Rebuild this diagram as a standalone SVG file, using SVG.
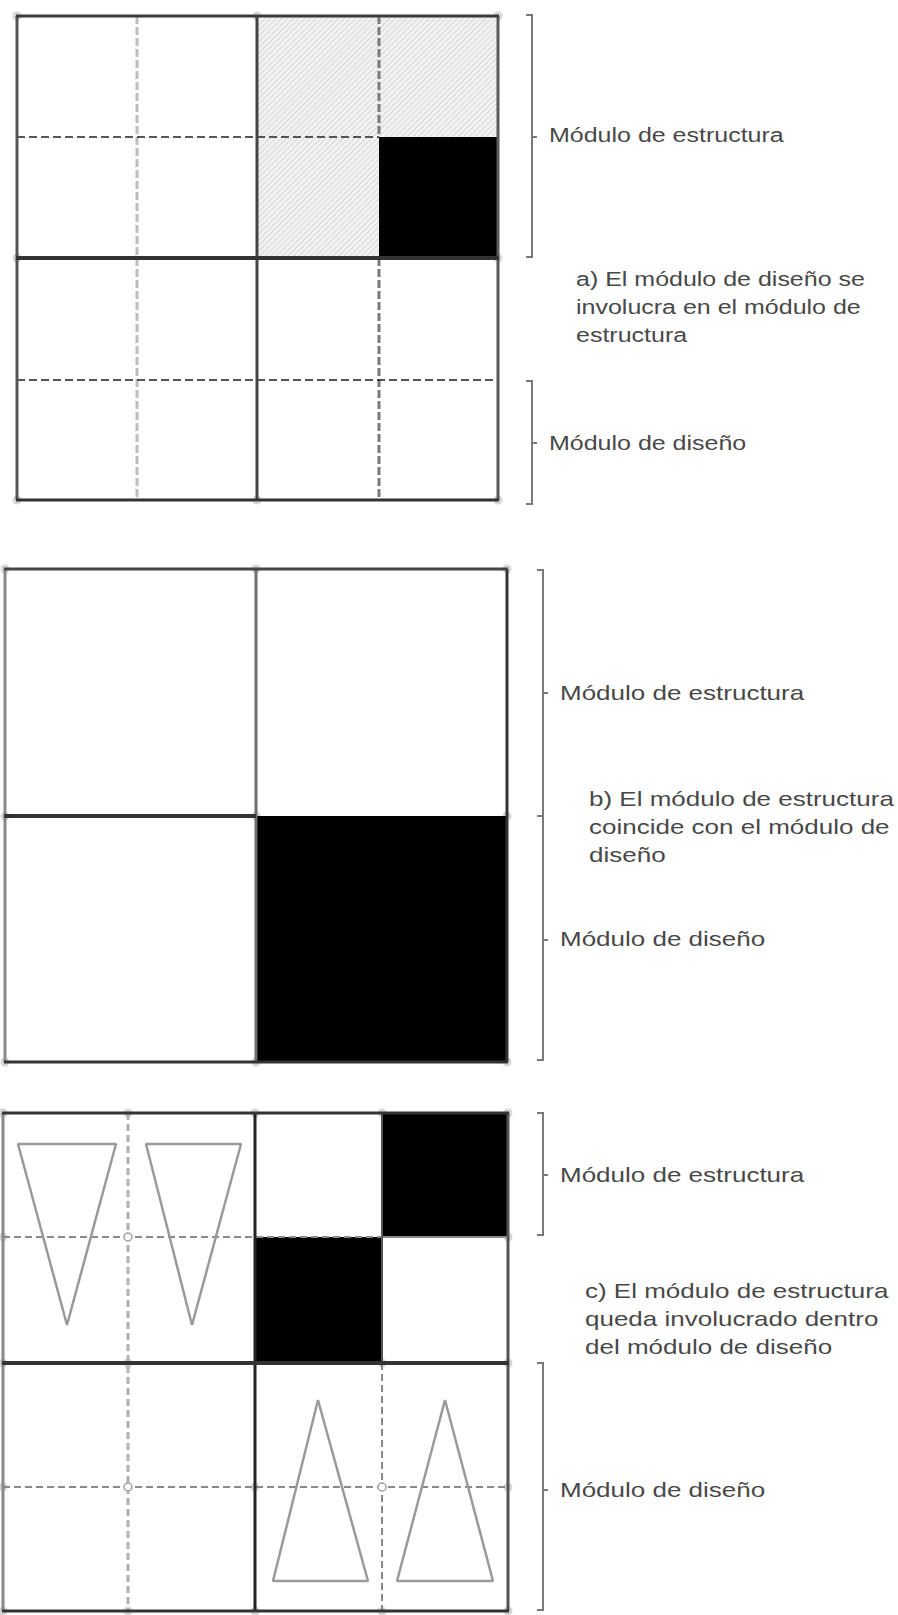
<svg xmlns="http://www.w3.org/2000/svg" width="898" height="1615" viewBox="0 0 898 1615">
<defs>
<pattern id="hatch" width="4" height="4" patternUnits="userSpaceOnUse" patternTransform="rotate(45)">
<rect width="4" height="4" fill="#f2f2f2"/>
<line x1="0" y1="0" x2="0" y2="4" stroke="#cbcbcb" stroke-width="1.4"/>
</pattern>
</defs>
<style>
.lbl{font-family:"Liberation Sans",Arial,sans-serif;font-size:20px;fill:#484848}
.blk{fill:#000}
.nub{fill:#d6d6d6}
.ln{fill:none;stroke-linecap:butt}
.tri{fill:none;stroke:#9a9a9a;stroke-width:2.5;stroke-linejoin:bevel}
.brk{fill:none;stroke:#7a7a7a;stroke-width:2}
.ring{fill:#fff;stroke:#a0a0a0;stroke-width:1.5}
</style>
<rect width="898" height="1615" fill="#fff"/>

<g id="section-a">
<g class="nub">
<circle cx="17" cy="16" r="4.5"/><circle cx="257" cy="16" r="4.5"/><circle cx="498" cy="16" r="4.5"/>
<circle cx="17" cy="258" r="4.5"/><circle cx="498" cy="258" r="4.5"/>
<circle cx="17" cy="500" r="4.5"/><circle cx="257" cy="500" r="4.5"/><circle cx="498" cy="500" r="4.5"/>
</g>
<rect x="257" y="16" width="241" height="121" fill="url(#hatch)"/>
<rect x="257" y="137" width="122" height="121" fill="url(#hatch)"/>
<rect class="blk" x="379" y="137" width="119" height="121"/>
<line class="ln" x1="137" y1="16" x2="137" y2="500" stroke="#bdbdbd" stroke-width="3" stroke-dasharray="8 3"/>
<line class="ln" x1="379" y1="16" x2="379" y2="137" stroke="#7a7a7a" stroke-width="3" stroke-dasharray="8 3"/>
<line class="ln" x1="379" y1="258" x2="379" y2="500" stroke="#7a7a7a" stroke-width="3" stroke-dasharray="8 3"/>
<line class="ln" x1="17" y1="137" x2="379" y2="137" stroke="#222" stroke-width="1.5" stroke-dasharray="8 4"/>
<line class="ln" x1="17" y1="380" x2="498" y2="380" stroke="#222" stroke-width="1.5" stroke-dasharray="8 4"/>
<line class="ln" x1="17" y1="16" x2="17" y2="500" stroke="#555" stroke-width="3"/>
<line class="ln" x1="498" y1="16" x2="498" y2="500" stroke="#5a5a5a" stroke-width="3"/>
<line class="ln" x1="257" y1="16" x2="257" y2="500" stroke="#444" stroke-width="3"/>
<line class="ln" x1="16" y1="16" x2="499" y2="16" stroke="#3a3a3a" stroke-width="3"/>
<line class="ln" x1="16" y1="258" x2="499" y2="258" stroke="#333" stroke-width="4"/>
<line class="ln" x1="16" y1="500" x2="499" y2="500" stroke="#333" stroke-width="3"/>
<text class="lbl" transform="translate(549 142) scale(1.25 1)">Módulo de estructura</text>
<text class="lbl" transform="translate(576 286) scale(1.25 1)">a) El módulo de diseño se</text>
<text class="lbl" transform="translate(576 314) scale(1.25 1)">involucra en el módulo de</text>
<text class="lbl" transform="translate(576 342) scale(1.25 1)">estructura</text>
<text class="lbl" transform="translate(549 450) scale(1.25 1)">Módulo de diseño</text>
</g>

<g id="section-b">
<g class="nub">
<circle cx="5" cy="569" r="4.5"/><circle cx="256" cy="569" r="4.5"/><circle cx="507" cy="569" r="4.5"/>
<circle cx="5" cy="816" r="4.5"/><circle cx="256" cy="816" r="4.5"/><circle cx="507" cy="816" r="4.5"/>
<circle cx="5" cy="1062" r="4.5"/><circle cx="256" cy="1062" r="4.5"/><circle cx="507" cy="1062" r="4.5"/>
</g>
<rect class="blk" x="256" y="816" width="251" height="246"/>
<line class="ln" x1="5" y1="569" x2="5" y2="1062" stroke="#888" stroke-width="3"/>
<line class="ln" x1="256" y1="569" x2="256" y2="1062" stroke="#6e6e6e" stroke-width="3"/>
<line class="ln" x1="507" y1="569" x2="507" y2="1062" stroke="#333" stroke-width="3"/>
<line class="ln" x1="4" y1="569" x2="508" y2="569" stroke="#444" stroke-width="3"/>
<line class="ln" x1="4" y1="816" x2="256" y2="816" stroke="#333" stroke-width="4"/>
<line class="ln" x1="4" y1="1062" x2="508" y2="1062" stroke="#333" stroke-width="3"/>
<text class="lbl" transform="translate(560 700) scale(1.3 1)">Módulo de estructura</text>
<text class="lbl" transform="translate(589 806) scale(1.3 1)">b) El módulo de estructura</text>
<text class="lbl" transform="translate(589 834) scale(1.3 1)">coincide con el módulo de</text>
<text class="lbl" transform="translate(589 862) scale(1.3 1)">diseño</text>
<text class="lbl" transform="translate(560 946) scale(1.3 1)">Módulo de diseño</text>
</g>

<g id="section-c">
<g class="nub">
<circle cx="3" cy="1113" r="4.5"/><circle cx="128" cy="1113" r="4.5"/><circle cx="255" cy="1113" r="4.5"/><circle cx="382" cy="1113" r="4.5"/><circle cx="508" cy="1113" r="4.5"/>
<circle cx="3" cy="1237" r="4.5"/><circle cx="508" cy="1237" r="4.5"/>
<circle cx="3" cy="1363" r="4.5"/><circle cx="128" cy="1363" r="4.5"/><circle cx="382" cy="1363" r="4.5"/><circle cx="508" cy="1363" r="4.5"/>
<circle cx="3" cy="1487" r="4.5"/><circle cx="255" cy="1487" r="4.5"/><circle cx="508" cy="1487" r="4.5"/>
<circle cx="3" cy="1611" r="4.5"/><circle cx="128" cy="1611" r="4.5"/><circle cx="255" cy="1611" r="4.5"/><circle cx="382" cy="1611" r="4.5"/><circle cx="508" cy="1611" r="4.5"/>
</g>
<rect class="blk" x="382" y="1113" width="126" height="124"/>
<rect class="blk" x="255" y="1237" width="127" height="126"/>
<line class="ln" x1="128" y1="1113" x2="128" y2="1611" stroke="#b0b0b0" stroke-width="3" stroke-dasharray="7 4"/>
<line class="ln" x1="382" y1="1363" x2="382" y2="1611" stroke="#8a8a8a" stroke-width="2" stroke-dasharray="7 4"/>
<line class="ln" x1="3" y1="1237" x2="382" y2="1237" stroke="#8a8a8a" stroke-width="2" stroke-dasharray="7 4"/>
<line class="ln" x1="382" y1="1237" x2="508" y2="1237" stroke="#8a8a8a" stroke-width="2"/>
<line class="ln" x1="382" y1="1113" x2="382" y2="1363" stroke="#555" stroke-width="2"/>
<line class="ln" x1="3" y1="1487" x2="508" y2="1487" stroke="#8a8a8a" stroke-width="2" stroke-dasharray="7 4"/>
<circle class="ring" cx="128" cy="1237" r="4"/>
<circle class="ring" cx="128" cy="1487" r="4"/>
<circle class="ring" cx="382" cy="1487" r="4"/>
<polygon class="tri" points="18,1144 116,1144 67,1325"/>
<polygon class="tri" points="146,1144 241,1144 192,1325"/>
<polygon class="tri" points="318,1400 273,1581 368,1581"/>
<polygon class="tri" points="445,1400 397,1581 493,1581"/>
<line class="ln" x1="3" y1="1113" x2="3" y2="1611" stroke="#888" stroke-width="3"/>
<line class="ln" x1="255" y1="1113" x2="255" y2="1611" stroke="#222" stroke-width="3"/>
<line class="ln" x1="508" y1="1113" x2="508" y2="1611" stroke="#555" stroke-width="3"/>
<line class="ln" x1="2" y1="1113" x2="509" y2="1113" stroke="#333" stroke-width="3"/>
<line class="ln" x1="2" y1="1363" x2="509" y2="1363" stroke="#333" stroke-width="4"/>
<line class="ln" x1="2" y1="1611" x2="509" y2="1611" stroke="#333" stroke-width="3"/>
<text class="lbl" transform="translate(560 1182) scale(1.3 1)">Módulo de estructura</text>
<text class="lbl" transform="translate(585 1298) scale(1.3 1)">c) El módulo de estructura</text>
<text class="lbl" transform="translate(585 1326) scale(1.3 1)">queda involucrado dentro</text>
<text class="lbl" transform="translate(585 1354) scale(1.3 1)">del módulo de diseño</text>
<text class="lbl" transform="translate(560 1497) scale(1.3 1)">Módulo de diseño</text>
</g>

<g id="connectors">
<path class="brk" d="M526 15 H532 V257 H526 M532 137 H537"/>
<path class="brk" d="M526 381 H532 V504 H526 M532 443 H537"/>
<path class="brk" d="M537 570 H543 V1060 H537 M537 816 H543 M543 693 H548 M543 940 H548"/>
<path class="brk" d="M537 1113 H543 V1235 H537 M543 1175 H548"/>
<path class="brk" d="M537 1363 H543 V1610 H537 M543 1490 H548"/>
</g>
</svg>
